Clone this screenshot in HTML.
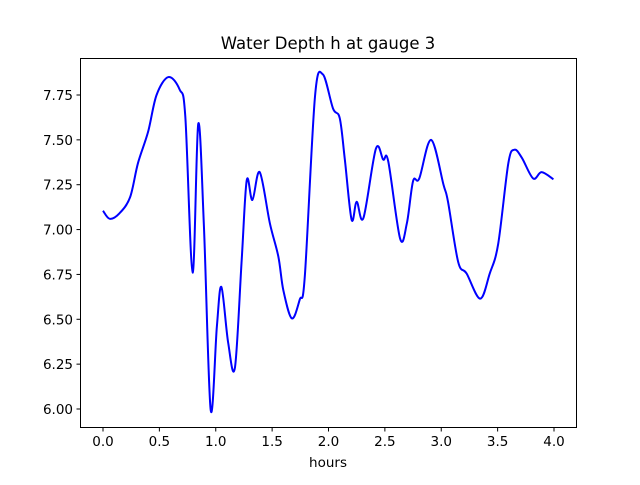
<!DOCTYPE html>
<html><head><meta charset="utf-8"><style>
body{margin:0;background:#fff}
svg text{font-family:"DejaVu Sans","Liberation Sans",sans-serif;fill:#000}
</style></head><body>
<svg id="chart" width="640" height="480" viewBox="0 0 640 480">
<rect width="640" height="480" fill="#fff"/>
<text x="328" y="49" text-anchor="middle" font-size="16.5">Water Depth h at gauge 3</text>
<g id="ticks"></g>
<path id="line" fill="none" stroke="#0000ff" stroke-width="2"/>
<rect x="80.5" y="58.5" width="496" height="369" fill="none" stroke="#000" stroke-width="1"/>
<text x="328" y="467" text-anchor="middle" font-size="13.5">hours</text>
</svg>
<script>
const hours=[0.00,0.06,0.145,0.24,0.31,0.40,0.475,0.58,0.68,0.73,0.795,0.845,0.895,0.955,1.01,1.05,1.11,1.17,1.23,1.275,1.325,1.39,1.48,1.555,1.60,1.675,1.745,1.79,1.88,1.95,2.04,2.10,2.145,2.205,2.25,2.31,2.42,2.485,2.53,2.635,2.695,2.75,2.805,2.91,3.02,3.06,3.15,3.225,3.345,3.43,3.505,3.595,3.65,3.715,3.815,3.89,3.995];
const depth=[7.105,7.06,7.09,7.18,7.37,7.545,7.75,7.85,7.78,7.63,6.76,7.59,7.02,5.995,6.46,6.68,6.37,6.23,6.83,7.275,7.165,7.32,7.035,6.85,6.66,6.505,6.61,6.74,7.74,7.865,7.675,7.62,7.39,7.055,7.155,7.065,7.45,7.39,7.38,6.95,7.035,7.27,7.285,7.50,7.25,7.155,6.82,6.755,6.615,6.755,6.92,7.37,7.445,7.40,7.285,7.32,7.28];
const xTicks=[0,0.5,1,1.5,2,2.5,3,3.5,4];
const xTickLabels=["0.0","0.5","1.0","1.5","2.0","2.5","3.0","3.5","4.0"];
const yTicks=[6,6.25,6.5,6.75,7,7.25,7.5,7.75];
const yTickLabels=["6.00","6.25","6.50","6.75","7.00","7.25","7.50","7.75"];
function sx(v){return 103+v*112.75;}
function sy(v){return 409-(v-6)*179.43;}
const NS="http://www.w3.org/2000/svg";
const g=document.getElementById('ticks');
xTicks.forEach((t,i)=>{
 const l=document.createElementNS(NS,'line');
 l.setAttribute('x1',sx(t));l.setAttribute('x2',sx(t));l.setAttribute('y1',427.5);l.setAttribute('y2',431.5);l.setAttribute('stroke','#000');
 
 
 g.appendChild(l);
 const tx=document.createElementNS(NS,'text');
 tx.setAttribute('x',sx(t));tx.setAttribute('y',446);tx.setAttribute('text-anchor','middle');tx.setAttribute('font-size','13.5');
 tx.textContent=xTickLabels[i];
 
 
 g.appendChild(tx);
});
yTicks.forEach((t,i)=>{
 const l=document.createElementNS(NS,'line');
 l.setAttribute('x1',76.5);l.setAttribute('x2',80.5);l.setAttribute('y1',sy(t));l.setAttribute('y2',sy(t));l.setAttribute('stroke','#000');
 
 
 g.appendChild(l);
 const tx=document.createElementNS(NS,'text');
 tx.setAttribute('x',73);tx.setAttribute('y',sy(t)+5);tx.setAttribute('text-anchor','end');tx.setAttribute('font-size','13.5');
 tx.textContent=yTickLabels[i];
 
 
 g.appendChild(tx);
});
const P=hours.map((h,i)=>[sx(h),sy(depth[i])]);
let d='M'+P[0][0]+','+P[0][1];
for(let i=0;i<P.length-1;i++){
 const p0=P[Math.max(0,i-1)],p1=P[i],p2=P[i+1],p3=P[Math.min(P.length-1,i+2)];
 const c1=[p1[0]+(p2[0]-p0[0])/6,p1[1]+(p2[1]-p0[1])/6];
 const c2=[p2[0]-(p3[0]-p1[0])/6,p2[1]-(p3[1]-p1[1])/6];
 d+=' C'+c1[0]+','+c1[1]+' '+c2[0]+','+c2[1]+' '+p2[0]+','+p2[1];
}
document.getElementById('line').setAttribute('d',d);
</script>
</body></html>
